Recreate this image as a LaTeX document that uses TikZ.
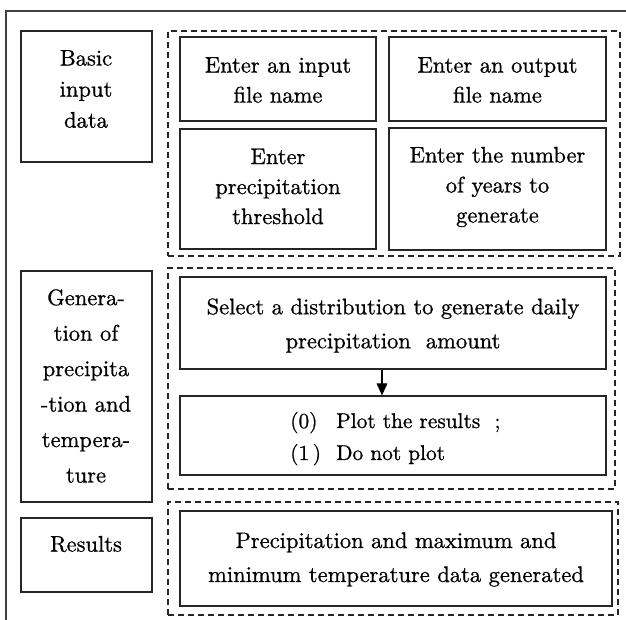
\documentclass[tikz,border=0pt]{standalone}
\usepackage{fontspec}
\setmainfont{lmroman10-regular}[Extension=.otf, FakeBold=0.8]
\usetikzlibrary{fit,arrows.meta}
\begin{document}
\begin{tikzpicture}[x=0.75pt,y=-0.75pt,
  frame/.style={draw=black!75, line width=0.8pt},
  box/.style={draw=black!85, line width=0.9pt, inner sep=0pt},
  group/.style={draw=black!85, line width=1.4pt, dash pattern=on 4.5pt off 3pt, inner sep=0pt},
  labeltext/.style={align=center, inner sep=0pt},
  leadA/.style={font=\fontsize{16.9}{22.5}\selectfont},
  leadB/.style={font=\fontsize{16.9}{23.3}\selectfont},
  leadC/.style={font=\fontsize{16.9}{26.6}\selectfont},
  leadD/.style={font=\fontsize{16.9}{25.5}\selectfont},
  item/.style={inner sep=0pt, anchor=base west, font=\fontsize{16}{24}\selectfont},
  flow/.style={draw=black, line width=0.9pt, -{Triangle[width=8pt,length=9pt]}}
]
\useasboundingbox (0,0) rectangle (626,620);

% outer frame (top and left edges)
\draw[frame] (6,620) -- (6,11) -- (626,11);

% left column: section titles
\node[box, fit={(21,31) (152,162)}] (basicbox) {};
\node[labeltext, leadB] (basiclbl) at (86,89) {Basic\\input\\data};

\node[box, fit={(21,271) (152,502)}] (genbox) {};
\node[labeltext, leadC] (genlbl) at (86,386)
  {Genera-\\tion of\\precipita\\-tion and\\tempera-\\ture};

\node[box, fit={(21,518) (152,592)}] (resbox) {};
\node[labeltext, leadB] (reslbl) at (86,544) {Results};

% dashed groups
\node[group, fit={(168,31) (620,256)}] (grpinput) {};
\node[group, fit={(168,268) (615,489)}] (grpgen) {};
\node[group, fit={(168,502) (618,615)}] (grpres) {};

% basic input data
\node[box, fit={(180,37) (376,121)}] (infile) {};
\node[labeltext, leadA] (infilelbl) at (278,80) {Enter an input\\file name};
\node[box, fit={(389,37) (606,121)}] (outfile) {};
\node[labeltext, leadA] (outfilelbl) at (497.5,80) {Enter an output\\file name};
\node[box, fit={(180,129) (376,249)}] (thresh) {};
\node[labeltext, leadA] (threshlbl) at (278,186.5) {Enter\\precipitation\\threshold};
\node[box, fit={(389,128) (606,250)}] (years) {};
\node[labeltext, leadA] (yearslbl) at (497.5,187) {Enter the number\\of years to\\generate};

% generation
\node[box, fit={(180,277) (606,369)}] (select) {};
\node[labeltext, leadD] (selectlbl) at (393,325.5)
  {Select a distribution to generate daily\\precipitation\ \ amount};
\node[box, fit={(180,396) (606,475)}] (plot) {};
\node[item] (opt0) at (290,428) {(0)};
\node[item] (opt0txt) at (336,428) {Plot the results\ \ ;};
\node[item] (opt1) at (290,460) {(1\,)};
\node[item] (opt1txt) at (336,460) {Do not plot};

% results
\node[box, fit={(180,511) (612,606)}] (output) {};
\node[labeltext, leadD] (outputlbl) at (396,559.5)
  {Precipitation and maximum and\\minimum temperature data generated};

% connector
\coordinate (arrowx) at (382,0);
\draw[flow] (select.south -| arrowx) -- (plot.north -| arrowx);
\end{tikzpicture}
\end{document}
